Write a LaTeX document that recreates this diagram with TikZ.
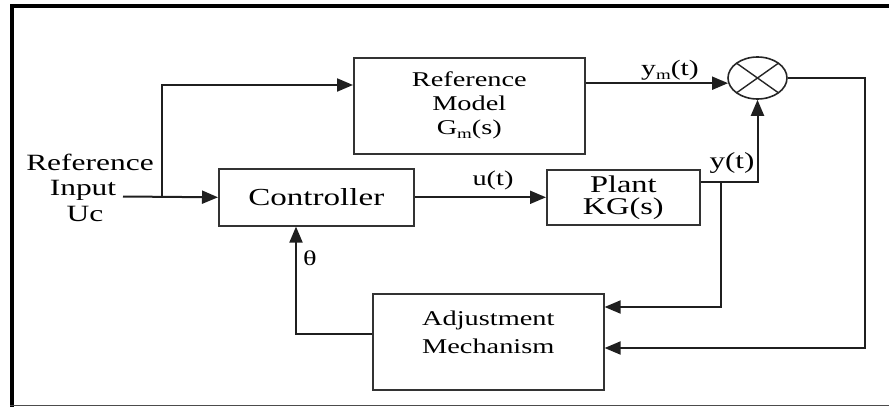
\documentclass[tikz,border=0pt]{standalone}
\usepackage{fontspec}
\setmainfont[FakeStretch=1.35]{Liberation Serif}
\usetikzlibrary{arrows.meta,shapes.geometric,calc}
\newcommand\subm{\raisebox{-0.4ex}{\fontsize{14}{14}\selectfont m}}
\begin{document}
\begin{tikzpicture}[x=1pt,y=-1pt,
  blk/.style={draw=black!80,line width=1.6pt,inner sep=0pt,anchor=north west,align=center},
  conn/.style={draw=black!88,line width=2pt},
  arr/.style={conn,-{Triangle[length=16pt,width=13pt]}},
  lbl/.style={inner sep=0pt,align=center,text=black},
  inlbl/.style={inner sep=0pt,anchor=base,font=\fontsize{23.3}{25}\selectfont}]
\useasboundingbox (0,0) rectangle (889,407);
% frame
\draw[line width=3.5pt] (10,6) -- (889,6);
\draw[line width=3.5pt] (12,4.5) -- (12,407);
\draw[black!70,line width=1.5pt] (10,405.5) -- (889,405.5);
% blocks
\node[blk,minimum width=231,minimum height=96,font=\fontsize{21}{24}\selectfont] (rm) at (353,57) {Reference\\Model\\G\subm(s)};
\node[blk,minimum width=195,minimum height=57,font=\fontsize{24.5}{26}\selectfont] (ctrl) at (218,168) {Controller};
\node[blk,minimum width=153,minimum height=55,font=\fontsize{24}{22}\selectfont] (plant) at (546,169) {Plant\\KG(s)};
\node[blk,minimum width=231,minimum height=96,font=\fontsize{21}{28}\selectfont] (adj) at (372,293) {Adjustment\\Mechanism\\[-8pt]};
\node[draw=black!85,line width=1.6pt,ellipse,minimum width=59,minimum height=42,inner sep=0pt] (sum) at (757.5,78) {};
\draw[black!85,line width=1.4pt] ($(sum.center)+(-20.9,-14.8)$) -- ($(sum.center)+(20.9,14.8)$);
\draw[black!85,line width=1.4pt] ($(sum.center)+(-20.9,14.8)$) -- ($(sum.center)+(20.9,-14.8)$);
% labels
\node[inlbl] (lin1) at (90,170) {Reference};
\node[inlbl] (lin2) at (83,195) {Input};
\node[inlbl] (lin3) at (85,221) {Uc};
\node[lbl,font=\fontsize{22}{22}\selectfont] (lym) at (670,70) {y\subm(t)};
\node[lbl,font=\fontsize{23}{22}\selectfont] (lyt) at (732,163) {y(t)};
\node[lbl,font=\fontsize{21}{22}\selectfont] (lut) at (493,180) {u(t)};
\node[lbl,font=\fontsize{21}{22}\selectfont] (lth) at (310,258) {θ};
% connectors
\coordinate (in) at (123,196.5);
\coordinate (br) at (162,196.5);
\draw[arr] (in) -- (ctrl.west);
\draw[arr] (br) |- ($(rm.north west)+(0,28)$);
\draw[arr] (ctrl.east) -- (plant.west);
\coordinate (po) at ($(plant.north east)+(0,13)$);
\coordinate (pb) at ($(plant.north east)+(20,13)$);
\draw[arr] (po) -| (sum.south);
\draw[arr] (pb) |- ($(adj.north east)+(0,14)$);
\draw[arr] (rm.east |- sum.190) -- (sum.190);
\draw[arr] (sum.east) -- ++(77,0) |- ($(adj.north east)+(0,55)$);
\draw[arr] ($(adj.north west)+(0,41)$) -| ($(ctrl.south west)+(78,0)$);
\end{tikzpicture}
\end{document}
